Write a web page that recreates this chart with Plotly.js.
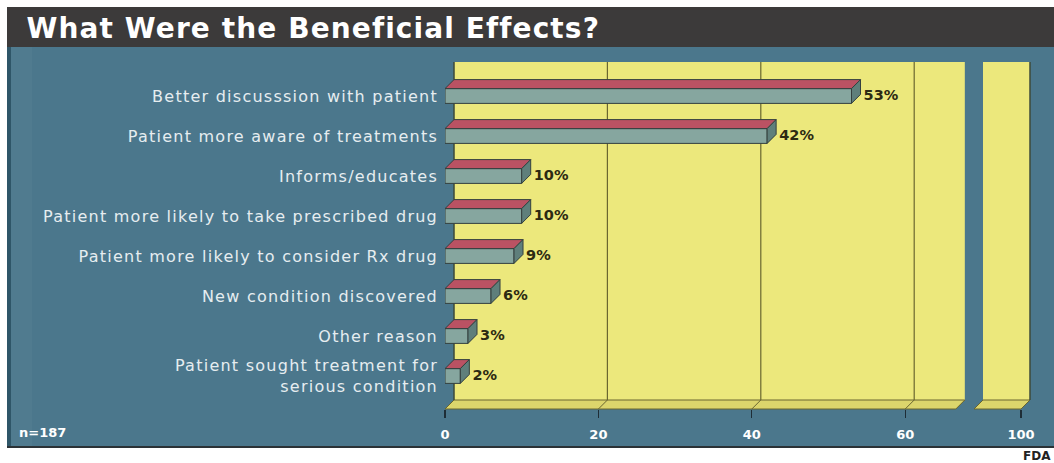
<!DOCTYPE html>
<html>
<head>
<meta charset="utf-8">
<script src="https://cdn.plot.ly/plotly-3.0.1.min.js"></script>
<style>
  html, body { margin: 0; padding: 0; background: #ffffff; }
  #chart { width: 1054px; height: 463px; }
</style>
</head>
<body>
<div id="chart"></div>
<script>
// ---- data ----
const categories = [
  'Better discusssion with patient',
  'Patient more aware of treatments',
  'Informs/educates',
  'Patient more likely to take prescribed drug',
  'Patient more likely to consider Rx drug',
  'New condition discovered',
  'Other reason',
  'Patient sought treatment for<br>serious condition'
];
const percents = [53, 42, 10, 10, 9, 6, 3, 2];
const valueLabels = percents.map(v => v + '%');
const tickValuesLeft = [0, 20, 40, 60];
const tickValuesRight = [100];
const titleText = 'What Were the Beneficial Effects?';
const sampleNote = 'n=187';
const sourceNote = 'FDA';

// ---- geometry (pixels) ----
const W = 1054, H = 463;
const PX_PER_PCT = 7.67;
const DEPTH = 9;                  // 3-D offset of the back wall, px
const FRONT_LEFT = 445;
const LEFT_SPAN = 66.6;           // % shown in the left panel
const FRONT_RIGHT = FRONT_LEFT + LEFT_SPAN * PX_PER_PCT;
const RIGHT_FRONT_L = 974, RIGHT_FRONT_R = 1021;
const RIGHT_SPAN = (RIGHT_FRONT_R - RIGHT_FRONT_L) / PX_PER_PCT;
const FRONT_TOP = 71, FRONT_BOTTOM = 409;
const ROW0 = 96, ROW_PITCH = 40;
const BAR_W = 0.37;

const fx = x => x / W;
const fy = y => 1 - y / H;

const dxU = DEPTH / PX_PER_PCT;   // depth in % units
const dyU = DEPTH / ROW_PITCH;    // depth in row units

const rows = categories.map((_, i) => i);

// colours
const BLUE = '#4b778c';
const TITLE_BG = '#3c3a3a';
const WALL = '#ece87c';
const FLOOR = '#dcd56c';
const OLIVE = '#6a6630';
const FRONT_FACE = '#86a69f';
const TOP_FACE = '#bb5263';
const SIDE_FACE = '#5f7f7b';
const EDGE = '#34403f';

// ---- 3-D faces built from the values ----
const topX = [], topY = [], sideX = [], sideY = [];
percents.forEach((v, i) => {
  const yt = i - BAR_W / 2, yb = i + BAR_W / 2;
  topX.push(0, v, v + dxU, dxU, 0, null);
  topY.push(yt, yt, yt - dyU, yt - dyU, yt, null);
  sideX.push(v, v + dxU, v + dxU, v, v, null);
  sideY.push(yt, yt - dyU, yb - dyU, yb, yt, null);
});

const traces = [
  {
    type: 'bar', orientation: 'h',
    x: percents, y: rows, width: BAR_W,
    xaxis: 'x2', yaxis: 'y2',
    marker: { color: FRONT_FACE, line: { color: EDGE, width: 1 } },
    hoverinfo: 'skip', showlegend: false
  },
  {
    type: 'scatter', mode: 'lines', x: topX, y: topY,
    xaxis: 'x2', yaxis: 'y2', fill: 'toself', fillcolor: TOP_FACE,
    line: { color: EDGE, width: 1 }, hoverinfo: 'skip', showlegend: false,
    cliponaxis: false
  },
  {
    type: 'scatter', mode: 'lines', x: sideX, y: sideY,
    xaxis: 'x2', yaxis: 'y2', fill: 'toself', fillcolor: SIDE_FACE,
    line: { color: EDGE, width: 1 }, hoverinfo: 'skip', showlegend: false,
    cliponaxis: false
  },
  {
    type: 'scatter', mode: 'text',
    x: percents.map(v => v + dxU + 0.4), y: rows.map(r => r + 0.02),
    text: valueLabels, textposition: 'middle right',
    textfont: { family: 'DejaVu Sans', size: 14.5, color: '#2c2a12', weight: 700 },
    xaxis: 'x2', yaxis: 'y2', hoverinfo: 'skip', showlegend: false,
    cliponaxis: false
  }
];

// ---- decoration: panels, walls, floor and grid ----
const rect = (x0, y0, x1, y1, fill) => ({
  type: 'rect', xref: 'paper', yref: 'paper', layer: 'below',
  x0: fx(x0), x1: fx(x1), y0: fy(y1), y1: fy(y0),
  fillcolor: fill, line: { width: 0 }
});
const poly = (pts, fill, lineColor) => ({
  type: 'path', xref: 'paper', yref: 'paper', layer: 'below',
  path: 'M' + pts.map(p => fx(p[0]) + ',' + fy(p[1])).join('L') + 'Z',
  fillcolor: fill, line: { color: lineColor, width: 1 }
});

const BACK_TOP = FRONT_TOP - DEPTH, BACK_BOTTOM = FRONT_BOTTOM - DEPTH;

const shapes = [
  rect(7, 47, W, 447, BLUE),
  rect(7, 47, 11, 447, '#2f5668'),
  rect(11, 47, 32, 447, 'rgba(255,255,255,0.03)'),
  rect(7, 446, W, 448, '#2b3236'),
  rect(7, 7, W, 47, TITLE_BG),
  // back walls
  rect(FRONT_LEFT + DEPTH, BACK_TOP, FRONT_RIGHT + DEPTH, BACK_BOTTOM, WALL),
  rect(RIGHT_FRONT_L + DEPTH, BACK_TOP, RIGHT_FRONT_R + DEPTH, BACK_BOTTOM, WALL),
  // floors
  poly([[FRONT_LEFT, FRONT_BOTTOM], [FRONT_RIGHT, FRONT_BOTTOM],
        [FRONT_RIGHT + DEPTH, BACK_BOTTOM], [FRONT_LEFT + DEPTH, BACK_BOTTOM]], FLOOR, OLIVE),
  poly([[RIGHT_FRONT_L, FRONT_BOTTOM], [RIGHT_FRONT_R, FRONT_BOTTOM],
        [RIGHT_FRONT_R + DEPTH, BACK_BOTTOM], [RIGHT_FRONT_L + DEPTH, BACK_BOTTOM]], FLOOR, OLIVE),
  // wall edges
  { type: 'line', xref: 'paper', yref: 'paper', layer: 'below',
    x0: fx(FRONT_LEFT + DEPTH), x1: fx(FRONT_LEFT + DEPTH), y0: fy(BACK_TOP), y1: fy(BACK_BOTTOM),
    line: { color: '#3d4a3a', width: 1.5 } },
  { type: 'line', xref: 'paper', yref: 'paper', layer: 'below',
    x0: fx(RIGHT_FRONT_R + DEPTH), x1: fx(RIGHT_FRONT_R + DEPTH), y0: fy(BACK_TOP), y1: fy(BACK_BOTTOM),
    line: { color: '#3d4a3a', width: 1.5 } }
];
// gridlines: up the back wall and across the floor, placed on the % scale
tickValuesLeft.forEach(t => {
  if (t > 0) {
    shapes.push({
      type: 'line', xref: 'x2', yref: 'paper', layer: 'below',
      x0: t + dxU, x1: t + dxU, y0: fy(BACK_TOP), y1: fy(BACK_BOTTOM),
      line: { color: OLIVE, width: 1.2 }
    });
  }
  shapes.push({
    type: 'line', xref: 'x2', yref: 'paper', layer: 'below',
    x0: t, x1: t + dxU, y0: fy(FRONT_BOTTOM), y1: fy(BACK_BOTTOM),
    line: { color: OLIVE, width: 1 }
  });
});
shapes.push({
  type: 'line', xref: 'x3', yref: 'paper', layer: 'below',
  x0: tickValuesRight[0], x1: tickValuesRight[0] + dxU, y0: fy(FRONT_BOTTOM), y1: fy(BACK_BOTTOM),
  line: { color: OLIVE, width: 1 }
});

const tickFont = { family: 'DejaVu Sans', size: 13, color: '#ffffff', weight: 700 };

const layout = {
  width: W, height: H,
  margin: { l: 0, r: 0, t: 0, b: 0 },
  paper_bgcolor: '#ffffff',
  plot_bgcolor: 'rgba(0,0,0,0)',
  showlegend: false,
  // front plane, left panel
  xaxis2: {
    domain: [fx(FRONT_LEFT), fx(FRONT_RIGHT)], range: [0, LEFT_SPAN], anchor: 'y2',
    tickvals: tickValuesLeft, ticks: 'outside', ticklen: 8, tickwidth: 1.2, tickcolor: '#1e2d36',
    ticklabelstandoff: 5, tickfont: tickFont,
    showgrid: false, zeroline: false, showline: false, fixedrange: true
  },
  yaxis2: {
    domain: [fy(FRONT_BOTTOM), fy(FRONT_TOP)],
    range: [(FRONT_BOTTOM - ROW0) / ROW_PITCH, (FRONT_TOP - ROW0) / ROW_PITCH],
    anchor: 'x2', tickvals: rows, ticktext: categories, ticks: '',
    ticklabelstandoff: 6,
    tickfont: { family: 'DejaVu Sans', size: 16, color: '#e6edf0' },
    showgrid: false, zeroline: false, showline: false, fixedrange: true
  },
  // front plane, right panel after the axis break
  xaxis3: {
    domain: [fx(RIGHT_FRONT_L), fx(RIGHT_FRONT_R)], range: [100 - RIGHT_SPAN, 100], anchor: 'y2',
    tickvals: tickValuesRight, ticks: 'outside', ticklen: 8, tickwidth: 1.2, tickcolor: '#1e2d36',
    ticklabelstandoff: 5, tickfont: tickFont,
    showgrid: false, zeroline: false, showline: false, fixedrange: true
  },
  shapes: shapes,
  annotations: [
    { text: titleText, xref: 'paper', yref: 'paper', x: fx(313), y: fy(28),
      xanchor: 'center', yanchor: 'middle', showarrow: false,
      font: { family: 'DejaVu Sans', size: 28, color: '#ffffff', weight: 700 } },
    { text: sampleNote, xref: 'paper', yref: 'paper', x: fx(17), y: fy(432),
      xanchor: 'left', yanchor: 'middle', showarrow: false,
      font: { family: 'DejaVu Sans', size: 13, color: '#ffffff', weight: 700 } },
    { text: sourceNote, xref: 'paper', yref: 'paper', x: fx(1053), y: fy(456),
      xanchor: 'right', yanchor: 'middle', showarrow: false,
      font: { family: 'DejaVu Sans', size: 12, color: '#222222', weight: 700 } }
  ]
};

Plotly.newPlot('chart', traces, layout, { displayModeBar: false, staticPlot: true }).then(gd => {
  // the category labels and title are set a little wider, as in print
  gd.querySelectorAll('.yaxislayer-above text').forEach(t => {
    t.setAttribute('letter-spacing', '1.25px');
    t.style.letterSpacing = '1.25px';
  });
  gd.querySelectorAll('.annotation-text').forEach(t => {
    if (t.textContent === titleText) {
      t.setAttribute('letter-spacing', '1.1px');
      t.style.letterSpacing = '1.1px';
    }
  });
});
</script>
</body>
</html>
